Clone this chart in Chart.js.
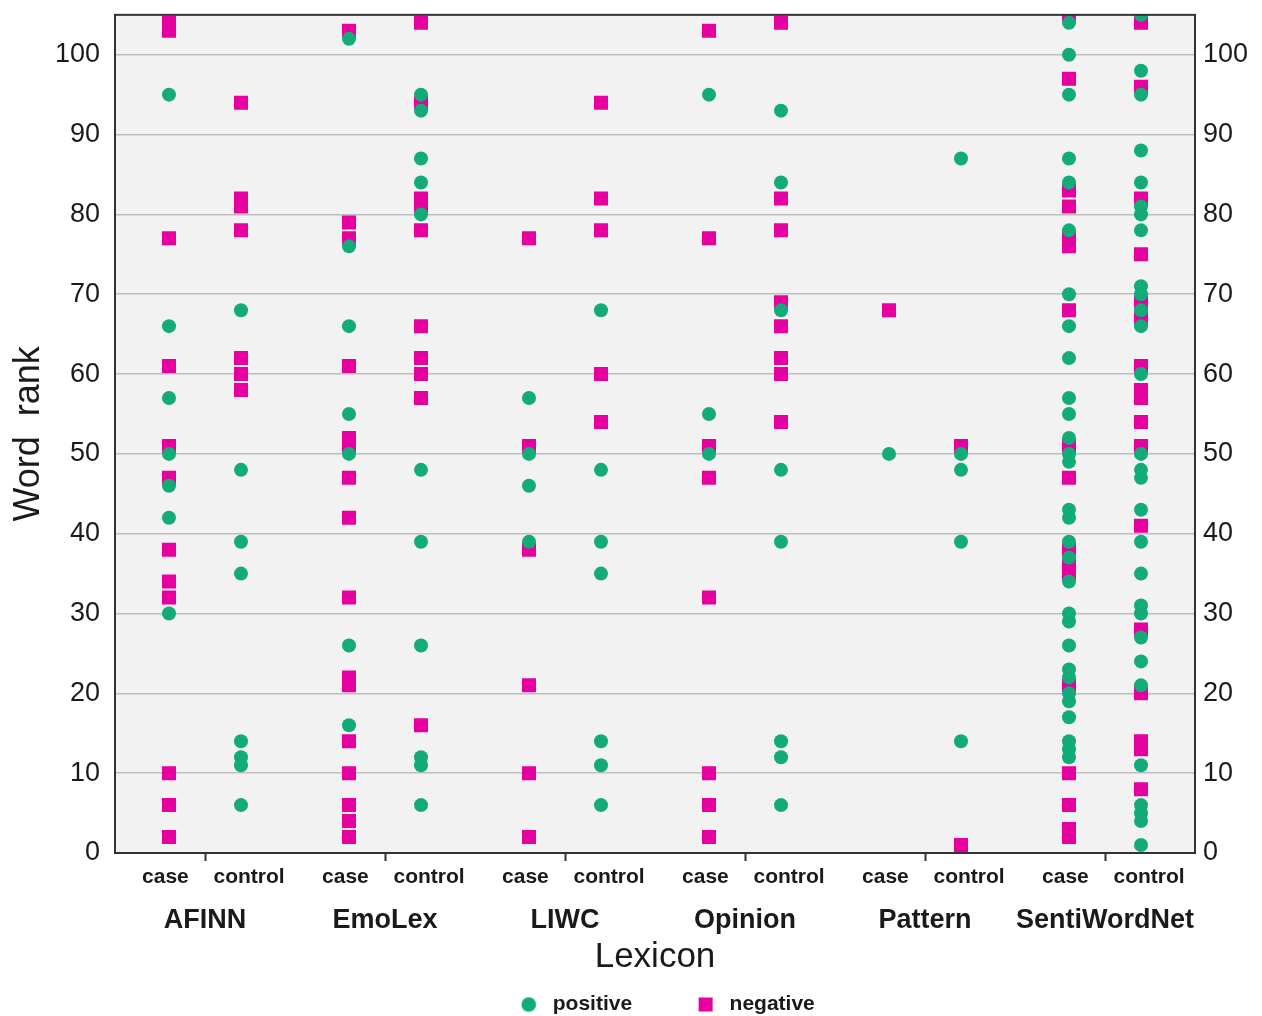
<!DOCTYPE html>
<html><head><meta charset="utf-8">
<script src="https://cdn.jsdelivr.net/npm/chart.js@4/dist/chart.umd.min.js"></script>
<style>html,body{margin:0;padding:0;background:#fff}#wrap{width:1262px;height:1016px}</style>
</head><body><div id="wrap"><canvas id="c" width="1262" height="1016"></canvas></div>
<script>
const lexicons = ['AFINN', 'EmoLex', 'LIWC', 'Opinion', 'Pattern', 'SentiWordNet'];
const conditions = ['case', 'control'];
const yTickValues = [0, 10, 20, 30, 40, 50, 60, 70, 80, 90, 100];
const seriesNames = ['positive', 'negative'];

const afinnCasePositive = [95, 66, 57, 50, 46, 42, 30];
const afinnCaseNegative = [104, 103, 77, 61, 51, 47, 38, 34, 32, 10, 6, 2];
const afinnControlPositive = [68, 48, 39, 35, 14, 12, 11, 6];
const afinnControlNegative = [94, 82, 81, 78, 62, 60, 58];
const emolexCasePositive = [102, 76, 66, 55, 50, 26, 16];
const emolexCaseNegative = [103, 79, 77, 61, 52, 51, 47, 42, 32, 22, 21, 14, 10, 6, 4, 2];
const emolexControlPositive = [95, 93, 87, 84, 80, 48, 39, 26, 12, 11, 6];
const emolexControlNegative = [104, 94, 82, 81, 78, 66, 62, 60, 57, 16];
const liwcCasePositive = [57, 50, 46, 39];
const liwcCaseNegative = [77, 51, 38, 21, 10, 2];
const liwcControlPositive = [68, 48, 39, 35, 14, 11, 6];
const liwcControlNegative = [94, 82, 78, 60, 54];
const opinionCasePositive = [95, 55, 50];
const opinionCaseNegative = [103, 77, 51, 47, 32, 10, 6, 2];
const opinionControlPositive = [93, 84, 68, 48, 39, 14, 12, 6];
const opinionControlNegative = [104, 82, 78, 69, 66, 62, 60, 54];
const patternCasePositive = [50];
const patternCaseNegative = [68];
const patternControlPositive = [87, 50, 48, 39, 14];
const patternControlNegative = [51, 1];
const sentiCasePositive = [104, 100, 95, 87, 84, 78, 70, 66, 62, 57, 55, 52, 50, 49, 43, 42, 39, 37, 34, 30, 29, 26, 23, 22, 20, 19, 17, 14, 13, 12];
const sentiCaseNegative = [105, 97, 83, 81, 77, 76, 68, 51, 47, 38, 36, 35, 21, 10, 6, 3, 2];
const sentiControlPositive = [105, 98, 95, 88, 84, 81, 80, 78, 71, 70, 68, 66, 60, 50, 48, 47, 43, 39, 35, 31, 30, 27, 24, 21, 11, 6, 5, 4, 1];
const sentiControlNegative = [104, 96, 82, 75, 69, 67, 61, 58, 57, 54, 51, 41, 28, 20, 14, 13, 8];

const positiveGroups = [
  [afinnCasePositive, afinnControlPositive],
  [emolexCasePositive, emolexControlPositive],
  [liwcCasePositive, liwcControlPositive],
  [opinionCasePositive, opinionControlPositive],
  [patternCasePositive, patternControlPositive],
  [sentiCasePositive, sentiControlPositive]
];
const negativeGroups = [
  [afinnCaseNegative, afinnControlNegative],
  [emolexCaseNegative, emolexControlNegative],
  [liwcCaseNegative, liwcControlNegative],
  [opinionCaseNegative, opinionControlNegative],
  [patternCaseNegative, patternControlNegative],
  [sentiCaseNegative, sentiControlNegative]
];

const FONT = "'Liberation Sans', Arial, Helvetica, sans-serif";
const GREEN = '#13ac78';
const MAGENTA = '#e500a0';
const conditionOffset = [0.3, 0.7];
const conditionLabelOffset = [0.28, 0.745];

function toPoints(groups) {
  const pts = [];
  groups.forEach((pair, li) => {
    pair.forEach((vals, ci) => {
      vals.forEach(v => pts.push({ x: li + conditionOffset[ci], y: v }));
    });
  });
  return pts;
}

function marker(shape, color) {
  const c = document.createElement('canvas');
  c.width = 16; c.height = 16;
  const g = c.getContext('2d');
  g.fillStyle = color;
  if (shape === 'circle') { g.beginPath(); g.arc(8, 8, 7.3, 0, Math.PI * 2); g.fill(); }
  else { g.fillRect(1, 1, 14, 14); }
  return c;
}
const legendMarkers = [marker('circle', GREEN), marker('rect', MAGENTA)];

const conditionTicks = [];
lexicons.forEach((_, i) => conditionLabelOffset.forEach((o, j) => conditionTicks.push({ value: i + o, label: conditions[j] })));

const framePlugin = {
  id: 'frame',
  beforeDraw(chart) {
    const { ctx, chartArea: a } = chart;
    ctx.save();
    ctx.fillStyle = '#ffffff';
    ctx.fillRect(0, 0, chart.width, chart.height);
    ctx.fillStyle = '#f2f2f2';
    ctx.fillRect(a.left, a.top, a.right - a.left, a.bottom - a.top);
    ctx.restore();
    const lg = chart.legend;
    if (lg) {
      const w = lg.right - lg.left;
      lg.left = 34; lg.right = 34 + w;
      lg.top = 934; lg.bottom = chart.height;
    }
  },
  afterDraw(chart) {
    const { ctx, chartArea: a } = chart;
    ctx.save();
    ctx.strokeStyle = '#333';
    ctx.lineWidth = 2;
    ctx.strokeRect(a.left, a.top, a.right - a.left, a.bottom - a.top);
    ctx.restore();
  }
};

const yTickFont = { family: FONT, size: 27, lineHeight: 1.1 };

new Chart(document.getElementById('c'), {
  type: 'scatter',
  data: {
    datasets: [
      { label: seriesNames[0], data: toPoints(positiveGroups), pointStyle: 'circle', pointRadius: 7, pointHoverRadius: 7,
        backgroundColor: GREEN, borderColor: GREEN, borderWidth: 0, clip: 0 },
      { label: seriesNames[1], data: toPoints(negativeGroups), pointStyle: 'rect', pointRadius: 9.9, pointHoverRadius: 9.9,
        backgroundColor: MAGENTA, borderColor: MAGENTA, borderWidth: 0, clip: 0 }
    ]
  },
  options: {
    responsive: false,
    animation: false,
    layout: { padding: { top: 0, left: 0, right: 0, bottom: 8 } },
    plugins: {
      tooltip: { enabled: false },
      legend: {
        position: 'bottom',
        maxHeight: 30,
        labels: {
          usePointStyle: true,
          pointStyleWidth: 27,
          boxHeight: 14,
          padding: 60,
          color: '#1a1a1a',
          font: { family: FONT, size: 21, weight: 'bold' },
          generateLabels(chart) {
            const items = Chart.defaults.plugins.legend.labels.generateLabels(chart);
            items.forEach((it, i) => { it.pointStyle = legendMarkers[i]; });
            return items;
          }
        }
      }
    },
    scales: {
      x: {
        type: 'linear', position: 'bottom', min: 0, max: lexicons.length, weight: 1,
        afterBuildTicks(s) { s.ticks = lexicons.map((_, i) => ({ value: i + 0.5 })); },
        afterFit(s) { s.height = 8; },
        ticks: { display: false },
        grid: { drawOnChartArea: false, drawTicks: true, tickLength: 8, tickColor: '#333', tickWidth: 2 },
        border: { display: true, color: '#333', width: 2 }
      },
      xSub: {
        type: 'linear', axis: 'x', position: 'bottom', min: 0, max: lexicons.length, weight: 2,
        afterBuildTicks(s) { s.ticks = conditionTicks.map(t => ({ value: t.value })); },
        afterFit(s) { s.height = 32; },
        ticks: { autoSkip: false, maxRotation: 0, minRotation: 0, padding: 3.4, color: '#1a1a1a',
          font: { family: FONT, size: 21, weight: 'bold' },
          callback: (v, i) => conditionTicks[i].label },
        grid: { display: false, drawTicks: false }, border: { display: false }
      },
      xLex: {
        type: 'linear', axis: 'x', position: 'bottom', min: 0, max: lexicons.length, weight: 3,
        afterBuildTicks(s) { s.ticks = lexicons.map((_, i) => ({ value: i + 0.5 })); },
        afterFit(s) { s.height = 85; },
        ticks: { autoSkip: false, maxRotation: 0, minRotation: 0, padding: 11.8, color: '#1a1a1a',
          font: { family: FONT, size: 27, weight: 'bold' },
          callback: (v, i) => lexicons[i] },
        grid: { display: false, drawTicks: false }, border: { display: false },
        title: { display: true, text: 'Lexicon', color: '#1a1a1a', font: { family: FONT, size: 35 }, padding: { top: 0, bottom: 0 } }
      },
      y: {
        type: 'linear', position: 'left', min: 0, max: 105,
        afterBuildTicks(s) { s.ticks = yTickValues.map(v => ({ value: v })); },
        afterFit(s) { s.width = 115; },
        ticks: { padding: 0, font: yTickFont, color: '#1a1a1a' },
        grid: { color: '#bdbdbd', lineWidth: 1.5, drawTicks: true, tickLength: 15, tickColor: 'rgba(0,0,0,0)' },
        border: { display: true, color: '#333', width: 2 },
        title: { display: true, text: 'Word  rank', color: '#1a1a1a', font: { family: FONT, size: 36 }, padding: { top: 7, bottom: 0 } }
      },
      y2: {
        type: 'linear', axis: 'y', position: 'right', min: 0, max: 105,
        afterBuildTicks(s) { s.ticks = yTickValues.map(v => ({ value: v })); },
        afterFit(s) { s.width = 67; },
        ticks: { padding: 0, font: yTickFont, color: '#1a1a1a' },
        grid: { drawOnChartArea: false, drawTicks: true, tickLength: 8, tickColor: 'rgba(0,0,0,0)' },
        border: { display: true, color: '#333', width: 2 }
      }
    }
  },
  plugins: [framePlugin]
});
</script></body></html>
